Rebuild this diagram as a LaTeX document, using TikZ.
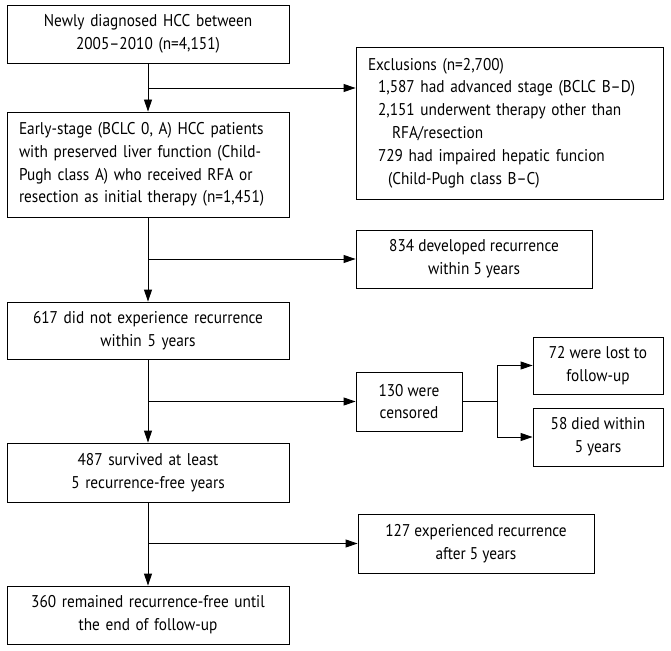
\documentclass[tikz,border=0pt]{standalone}
\usepackage{fontspec}
\setmainfont[FakeStretch=0.9]{PT Sans}
\usetikzlibrary{arrows.meta}

\begin{document}
\begin{tikzpicture}[
    x=1pt, y=-1pt,
    font=\fontsize{17}{22.8}\selectfont,
    box/.style={rectangle, draw, line width=0.9pt, inner xsep=12pt, inner ysep=0pt, align=center},
    mainbox/.style={box, minimum width=282pt, text width=258pt},
    leftbox/.style={box, align=left},
    sidebox/.style={box, minimum width=236pt, minimum height=58pt},
    smallbox/.style={box, minimum width=130pt, minimum height=57pt, inner xsep=4pt},
    arrow/.style={line width=0.9pt, -{Stealth[length=12pt, width=8pt, inset=0pt]}},
    line/.style={line width=0.9pt}
]
\useasboundingbox (0,0) rectangle (671,650);

% Main column
\node[mainbox, minimum height=58pt] (newly) at (148,34) {Newly diagnosed HCC between\\2005--2010 (n=4,151)};
\node[mainbox, leftbox, minimum height=105pt] (early) at (148,164.5) {Early-stage (BCLC 0, A) HCC patients\\with preserved liver function (Child-\\Pugh class A) who received RFA or\\resection as initial therapy (n=1,451)};
\node[mainbox, minimum height=57pt] (norecur) at (148,330.5) {617 did not experience recurrence\\within 5 years};
\node[mainbox, minimum height=59pt] (survived) at (148,472.5) {487 survived at least\\5 recurrence-free years};
\node[mainbox, minimum height=58pt] (remained) at (148,615) {360 remained recurrence-free until\\the end of follow-up};

% Side boxes
\node[leftbox, minimum width=307pt, minimum height=152pt, text width=283pt, inner xsep=12pt] (excl) at (509.5,123) {Exclusions (n=2,700)\\
\hspace*{10pt}1,587 had advanced stage (BCLC B--D)\\
\hspace*{10pt}2,151 underwent therapy other than\\
\hspace*{24pt}RFA/resection\\
\hspace*{10pt}729 had impaired hepatic funcion\\
\hspace*{20pt}(Child-Pugh class B--C)};
\node[sidebox] (recur5) at (474,259) {834 developed recurrence\\within 5 years};
\node[box, minimum width=106pt, minimum height=59pt, inner xsep=4pt] (censored) at (409,401.5) {130 were\\censored};
\node[smallbox] (lost) at (598,365.5) {72 were lost to\\follow-up};
\node[smallbox, minimum height=58pt] (died) at (598,437) {58 died within\\5 years};
\node[sidebox, minimum height=59pt] (late) at (476,543.5) {127 experienced recurrence\\after 5 years};

% Branch points
\coordinate (b1) at (148,88);
\coordinate (b2) at (148,259);
\coordinate (b3) at (148,401.5);
\coordinate (b4) at (148,543.5);
\coordinate (split) at (497,401.5);

% Arrows
\draw[arrow] (newly) -- (early);
\draw[arrow] (early) -- (norecur);
\draw[arrow] (norecur) -- (survived);
\draw[arrow] (survived) -- (remained);
\draw[arrow] (b1) -- (b1 -| excl.west);
\draw[arrow] (b2) -- (recur5.west);
\draw[arrow] (b3) -- (censored.west);
\draw[arrow] (b4) -- (late.west);
\draw[line] (censored.east) -- (split);
\draw[arrow] (split) |- (lost.west);
\draw[arrow] (split) |- (died.west);

\end{tikzpicture}
\end{document}
